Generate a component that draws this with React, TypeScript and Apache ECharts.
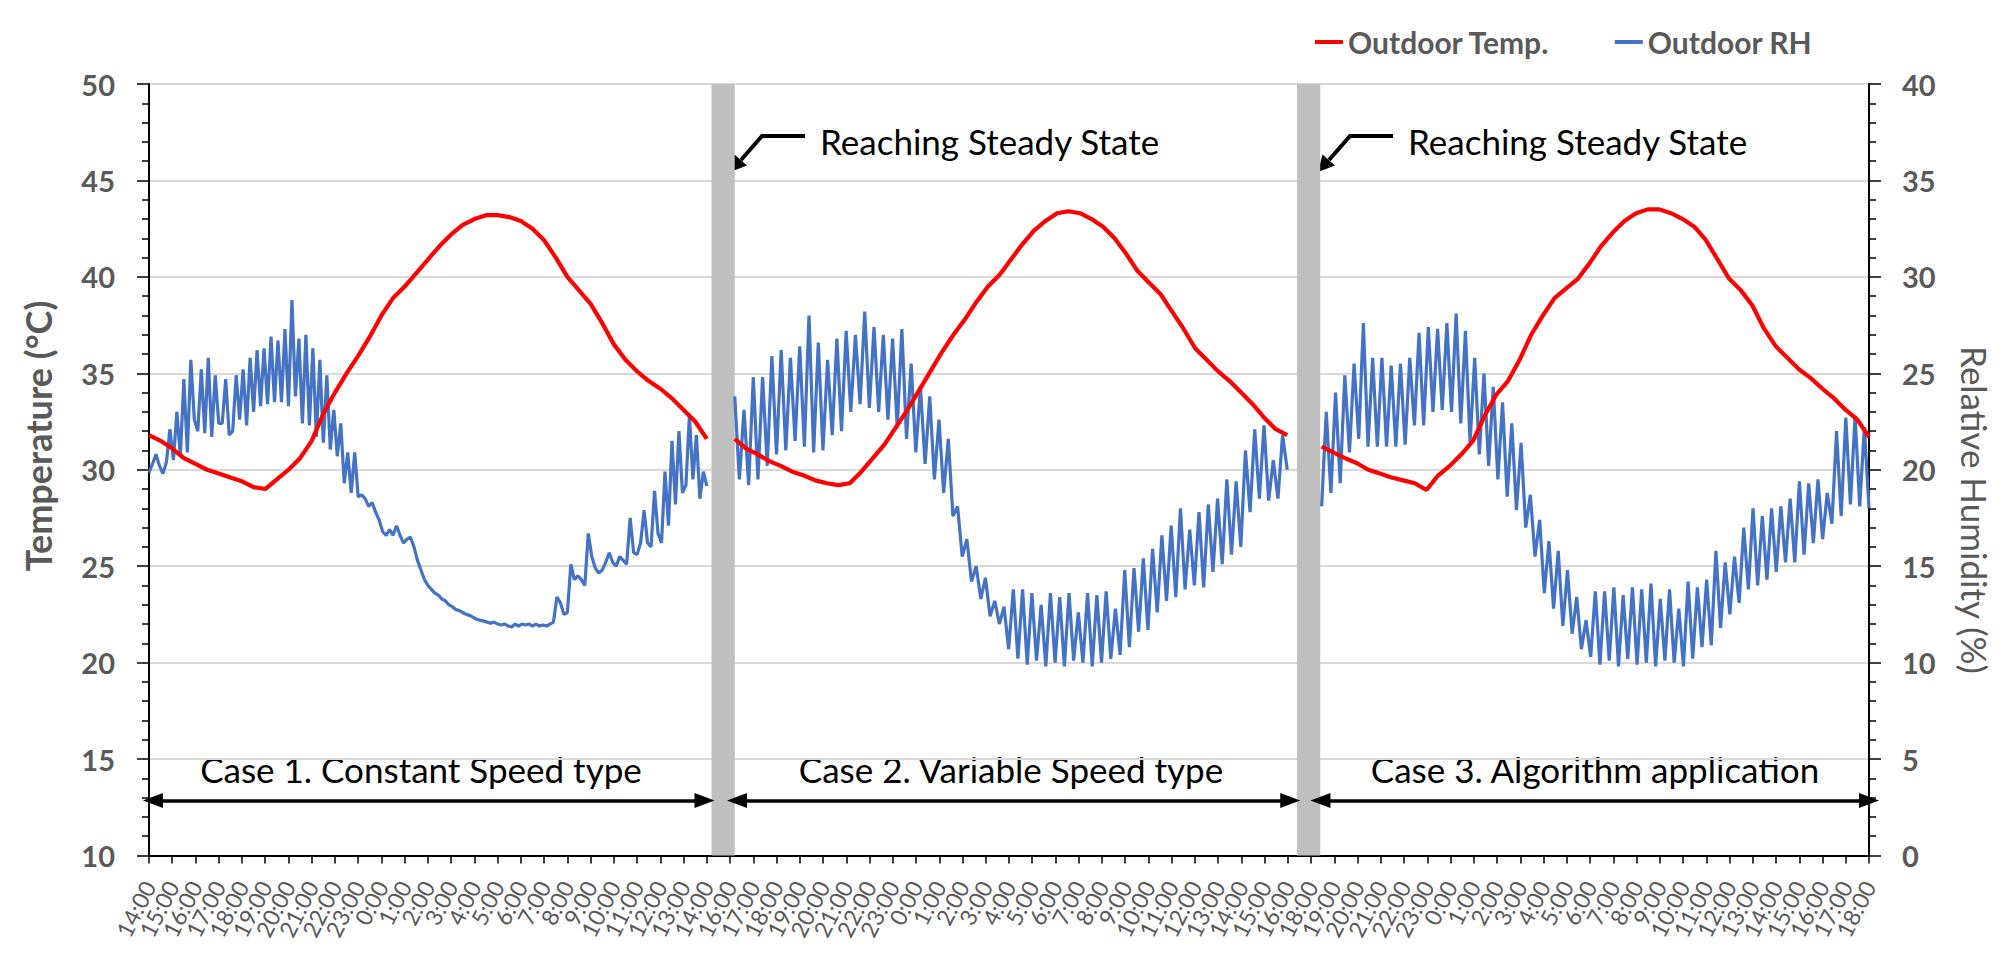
import React, { useEffect, useRef } from "react";
import * as echarts from "echarts";

// ---------- tick labels (hourly, three 24 h cases) ----------
const xLabels = [
  "14:00","15:00","16:00","17:00","18:00","19:00","20:00","21:00","22:00","23:00",
  "0:00","1:00","2:00","3:00","4:00","5:00","6:00","7:00","8:00","9:00","10:00","11:00","12:00","13:00","14:00",
  "16:00","17:00","18:00","19:00","20:00","21:00","22:00","23:00",
  "0:00","1:00","2:00","3:00","4:00","5:00","6:00","7:00","8:00","9:00","10:00","11:00","12:00","13:00","14:00","15:00","16:00",
  "18:00","19:00","20:00","21:00","22:00","23:00",
  "0:00","1:00","2:00","3:00","4:00","5:00","6:00","7:00","8:00","9:00","10:00","11:00","12:00","13:00","14:00","15:00","16:00","17:00","18:00",
];

// start / end position of each case on the hourly axis (tick index)
const caseStart = [0, 25.2, 50.45];
const caseEnd = [24, 48.97, 74];

// ---------- Outdoor temperature (°C), ~0.5 h samples ----------
const tempCase1 = [
  31.8, 31.5, 31.1, 30.6, 30.3, 30.0, 29.8, 29.6, 29.4, 29.1, 29.0, 29.5, 30.0, 30.6, 31.5, 32.9,
  34.0, 35.0, 35.9, 36.9, 38.0, 38.9, 39.5, 40.2, 40.9, 41.6, 42.2, 42.7, 43.0, 43.2, 43.2, 43.1,
  42.9, 42.5, 41.9, 41.0, 40.0, 39.3, 38.6, 37.6, 36.5, 35.7, 35.1, 34.6, 34.2, 33.7, 33.1, 32.5, 31.6,
];
const tempCase2 = [
  31.6, 31.1, 30.8, 30.45, 30.2, 29.9, 29.7, 29.45, 29.3, 29.2, 29.3, 29.9, 30.6, 31.3, 32.2, 33.1,
  34.1, 35.1, 36.1, 37.0, 37.8, 38.7, 39.5, 40.1, 40.9, 41.7, 42.4, 42.9, 43.3, 43.4, 43.3, 43.0,
  42.6, 42.0, 41.2, 40.3, 39.7, 39.1, 38.2, 37.3, 36.3, 35.7, 35.1, 34.6, 34.0, 33.4, 32.7, 32.1, 31.8,
];
const tempCase3 = [
  31.2, 30.9, 30.6, 30.35, 30.0, 29.8, 29.6, 29.45, 29.3, 28.95, 29.7, 30.2, 30.8, 31.5, 32.8, 33.9,
  34.6, 35.7, 37.0, 38.0, 38.9, 39.4, 39.9, 40.7, 41.6, 42.3, 42.9, 43.3, 43.5, 43.5, 43.3, 43.0,
  42.6, 41.9, 40.9, 39.9, 39.3, 38.5, 37.3, 36.4, 35.8, 35.2, 34.75, 34.2, 33.7, 33.1, 32.6, 31.7,
];

// ---------- Outdoor relative humidity (%) ----------
const rhCase1 = [
  19.85, 20.3, 20.8, 20.2, 19.8, 20.4, 22.1, 20.5, 23.0, 20.7,
  24.7, 20.9, 25.7, 22.6, 22.0, 25.2, 21.9, 25.8, 21.7, 24.9,
  22.4, 22.4, 24.7, 21.8, 22.0, 24.9, 22.6, 25.2, 22.3, 25.8,
  23.0, 26.2, 23.3, 26.3, 23.4, 26.9, 23.5, 26.7, 23.5, 27.3,
  23.3, 28.8, 23.8, 26.8, 22.4, 27.0, 22.3, 26.3, 21.7, 25.7,
  21.4, 24.9, 21.05, 23.1, 20.7, 22.4, 19.3, 20.9, 18.8, 20.9,
  18.6, 18.7, 18.5, 18.1, 18.3, 17.8, 17.4, 16.8, 16.6, 16.9,
  16.6, 17.1, 16.6, 16.2, 16.4, 16.5, 16.0, 15.3, 14.8, 14.3,
  14.0, 13.8, 13.6, 13.5, 13.3, 13.2, 13.0, 12.9, 12.75, 12.7,
  12.6, 12.5, 12.45, 12.35, 12.25, 12.2, 12.15, 12.1, 12.05, 12.1,
  12.0, 11.95, 12.0, 11.9, 11.85, 12.0, 11.9, 12.0, 11.95, 12.0,
  11.9, 12.0, 11.9, 11.95, 11.9, 12.0, 12.1, 13.4, 13.1, 12.5,
  12.6, 15.1, 14.3, 14.5, 14.3, 14.0, 16.7, 15.5, 14.9, 14.65,
  14.8, 15.2, 15.7, 15.2, 15.0, 15.5, 15.3, 15.1, 17.5, 15.7,
  15.6, 16.2, 17.9, 16.2, 16.0, 18.9, 16.7, 16.2, 19.9, 17.1,
  21.5, 18.2, 22.0, 18.8, 19.2, 22.8, 19.5, 21.8, 18.5, 19.9,
  19.15,
];
const rhCase2 = [
  23.8, 19.5, 23.1, 19.2, 24.8, 19.5, 24.8, 20.2,
  25.9, 20.8, 26.2, 21.0, 25.8, 21.5, 26.4, 21.2,
  28.0, 20.9, 26.6, 21.0, 25.7, 21.8, 26.8, 22.0,
  27.2, 23.0, 27.0, 23.4, 28.2, 23.2, 27.4, 23.0,
  27.0, 22.6, 26.8, 22.2, 27.3, 21.6, 25.5, 20.9,
  24.3, 20.3, 23.8, 19.5, 22.6, 18.8, 21.6, 17.6,
  18.1, 15.5, 16.4, 14.2, 15.0, 13.3, 14.4, 12.4,
  13.2, 12.0, 12.9, 10.7, 13.8, 10.2, 13.8, 9.9,
  13.6, 10.1, 13.0, 9.8, 13.6, 10.0, 13.4, 9.8,
  13.6, 10.1, 12.6, 10.0, 13.6, 9.8, 13.5, 10.0,
  13.7, 10.2, 12.8, 10.4, 14.8, 10.8, 14.9, 11.6,
  15.4, 11.7, 15.9, 12.6, 16.6, 13.2, 17.1, 13.4,
  18.0, 13.8, 16.9, 14.0, 17.8, 13.9, 18.2, 14.7,
  18.5, 15.1, 19.5, 15.6, 19.4, 16.0, 21.0, 17.8,
  22.1, 18.5, 22.3, 18.4, 20.5, 18.5, 21.8, 20.0,
];
const rhCase3 = [
  18.1, 23.0, 18.8, 24.0, 19.3, 24.9, 20.9, 25.5, 21.6, 27.6,
  21.2, 25.8, 21.2, 25.8, 21.2, 25.4, 21.2, 25.5, 21.3, 25.8,
  22.3, 27.1, 22.3, 27.4, 23.0, 27.3, 23.1, 27.6, 23.0, 28.1,
  22.4, 27.2, 21.4, 25.8, 20.8, 25.0, 20.2, 24.3, 19.5, 23.5,
  18.6, 22.4, 17.9, 21.4, 17.0, 18.7, 15.5, 17.4, 13.6, 16.3,
  12.8, 15.8, 11.9, 14.8, 11.5, 13.4, 10.7, 12.2, 10.3, 13.7,
  9.9, 13.7, 10.1, 13.9, 9.8, 13.5, 10.2, 13.9, 9.9, 13.8,
  10.0, 14.1, 9.8, 13.3, 10.1, 13.8, 10.0, 12.8, 9.8, 14.2,
  10.2, 13.9, 10.8, 14.3, 10.9, 15.8, 11.8, 15.2, 12.5, 15.5,
  13.1, 17.0, 13.8, 18.0, 14.0, 17.6, 14.3, 18.0, 14.7, 18.1,
  15.2, 18.5, 15.2, 19.4, 15.6, 19.3, 16.2, 19.5, 16.4, 18.8,
  17.2, 22.0, 17.6, 22.7, 18.2, 22.8, 18.1, 22.2, 18.0,
];

// grey "steady state" bands (axis units) and case arrows
const bandRanges = [[24.2, 25.2], [49.39, 50.39]];
const caseArrowRanges = [[0.17, 23.9], [25.3, 49.1], [50.4, 74.0]];
const caseArrowLevel = 12.85;
const caseTitles = ["Case 1. Constant Speed type", "Case 2. Variable Speed type", "Case 3. Algorithm application"];

const FONT = "Lato, 'Noto Sans', sans-serif";

function buildSeries(cases: number[][]) {
  const out: any[] = [];
  cases.forEach((vals, ci) => {
    const n = vals.length;
    const step = (caseEnd[ci] - caseStart[ci]) / (n - 1);
    vals.forEach((v, i) => out.push([caseStart[ci] + i * step, v]));
    if (ci < cases.length - 1) out.push([caseEnd[ci] + 0.3, "-"]);
  });
  return out;
}

function steadyAnnot(dx: number) {
  return [
    {
      type: "polyline",
      shape: { points: [[805 + dx, 136], [762 + dx, 136], [741 + dx, 160]] },
      style: { stroke: "#000", lineWidth: 4, fill: null },
      silent: true,
    },
    {
      type: "polygon",
      shape: { points: [[730 + dx, 172], [747 + dx, 165.5], [734.5 + dx, 154.5]] },
      style: { fill: "#000" },
      silent: true,
    },
    {
      type: "text",
      x: 820 + dx,
      y: 141,
      style: {
        text: "Reaching Steady State",
        fill: "#000",
        font: `35px ${FONT}`,
        textAlign: "left",
        textVerticalAlign: "middle",
        align: "left",
        verticalAlign: "middle",
      },
      silent: true,
    },
  ];
}

export default function App() {
  const ref = useRef<HTMLDivElement>(null);

  useEffect(() => {
    document.body.style.margin = "0";
    if (!ref.current) return;
    const chart = echarts.init(ref.current, undefined, { renderer: "svg" });

    const caseTextX = [421, 1011, 1595];

    const option: any = {
      animation: false,
      legend: {
        left: 1310,
        top: 22,
        icon: "rect",
        itemWidth: 28,
        itemHeight: 4,
        itemGap: 65,
        data: ["Outdoor Temp.", "Outdoor RH"],
        textStyle: { fontFamily: FONT, fontSize: 30, fontWeight: "bold", color: "#595959" },
      },
      grid: { left: 149, right: 131, top: 84, bottom: 99.5 },
      xAxis: [
        {
          // numeric hour axis that places the data
          type: "value",
          min: 0,
          max: 74,
          interval: 1,
          position: "bottom",
          axisLine: { show: false },
          axisTick: { show: false },
          axisLabel: { show: false },
          splitLine: { show: false },
        },
        {
          // hour labels and ticks
          type: "category",
          data: xLabels,
          boundaryGap: false,
          position: "bottom",
          axisLine: { show: true, onZero: false, lineStyle: { color: "#000", width: 2 } },
          axisTick: { show: true, interval: 0, length: 8, lineStyle: { color: "#000", width: 1.5 } },
          splitLine: { show: false },
          axisLabel: {
            interval: 0,
            rotate: 63,
            fontSize: 23,
            fontFamily: FONT,
            color: "#595959",
            margin: 27,
          },
        },
      ],
      yAxis: [
        {
          type: "value",
          min: 10,
          max: 50,
          interval: 5,
          position: "left",
          axisLine: { show: true, lineStyle: { color: "#000", width: 2 } },
          axisTick: { show: true, length: 12, lineStyle: { color: "#000", width: 1.5 } },
          minorTick: { show: true, splitNumber: 5, length: 7, lineStyle: { color: "#000", width: 1.5 } },
          splitLine: { show: true, lineStyle: { color: "#d9d9d9", width: 2 } },
          axisLabel: { fontFamily: FONT, fontSize: 29, fontWeight: "bold", color: "#595959", margin: 34 },
        },
        {
          type: "value",
          min: 0,
          max: 40,
          interval: 5,
          position: "right",
          axisLine: { show: true, lineStyle: { color: "#000", width: 2 } },
          axisTick: { show: true, length: 12, lineStyle: { color: "#000", width: 1.5 } },
          minorTick: { show: true, splitNumber: 5, length: 7, lineStyle: { color: "#000", width: 1.5 } },
          splitLine: { show: false },
          axisLabel: { fontFamily: FONT, fontSize: 29, fontWeight: "bold", color: "#595959", margin: 33 },
        },
      ],
      series: [
        {
          name: "Outdoor Temp.",
          type: "line",
          xAxisIndex: 0,
          yAxisIndex: 0,
          data: buildSeries([tempCase1, tempCase2, tempCase3]),
          showSymbol: false,
          symbol: "none",
          color: "#ff0000",
          lineStyle: { color: "#ff0000", width: 4.2 },
          z: 3,
          markArea: {
            silent: true,
            itemStyle: { color: "#bfbfbf", opacity: 1 },
            data: bandRanges.map((r) => [{ xAxis: r[0] }, { xAxis: r[1] }]),
          },
          markLine: {
            silent: true,
            symbol: ["triangle", "triangle"],
            symbolSize: [15, 20],
            label: { show: false },
            lineStyle: { color: "#000", width: 3.5, type: "solid" },
            emphasis: { disabled: true },
            data: caseArrowRanges.map((r) => [
              { coord: [r[0], caseArrowLevel] },
              { coord: [r[1], caseArrowLevel] },
            ]),
          },
        },
        {
          name: "Outdoor RH",
          type: "line",
          xAxisIndex: 0,
          yAxisIndex: 1,
          data: buildSeries([rhCase1, rhCase2, rhCase3]),
          showSymbol: false,
          symbol: "none",
          color: "#4472c4",
          lineStyle: { color: "#4472c4", width: 3.2 },
          z: 2,
        },
      ],
      graphic: [
        ...steadyAnnot(0),
        ...steadyAnnot(588),
        ...caseTitles.map((t, i) => ({
          type: "text",
          x: caseTextX[i],
          y: 769,
          style: {
            text: t,
            fill: "#000",
            font: `35px ${FONT}`,
            textAlign: "center",
            textVerticalAlign: "middle",
            align: "center",
            verticalAlign: "middle",
          },
          silent: true,
        })),
        {
          type: "text",
          x: 38,
          y: 436,
          rotation: Math.PI / 2,
          style: {
            text: "Temperature (°C)",
            fill: "#595959",
            font: `bold 36px ${FONT}`,
            textAlign: "center",
            textVerticalAlign: "middle",
            align: "center",
            verticalAlign: "middle",
          },
          silent: true,
        },
        {
          type: "text",
          x: 1975,
          y: 510,
          rotation: -Math.PI / 2,
          style: {
            text: "Relative Humidity (%)",
            fill: "#595959",
            font: `35px ${FONT}`,
            textAlign: "center",
            textVerticalAlign: "middle",
            align: "center",
            verticalAlign: "middle",
          },
          silent: true,
        },
      ],
    };

    chart.setOption(option);
    return () => chart.dispose();
  }, []);

  return <div ref={ref} style={{ width: 2000, height: 955 }} />;
}
